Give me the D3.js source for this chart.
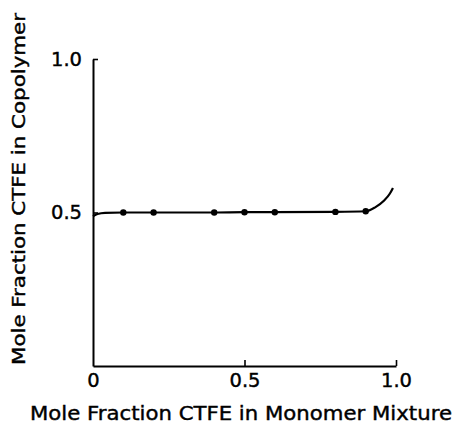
<!DOCTYPE html>
<html><head><meta charset="utf-8">
<script src="https://cdn.jsdelivr.net/npm/d3@7"></script>
<style>body{margin:0;background:#fff}</style>
</head><body>
<script>
const xTicks = [0, 0.5, 1.0];
const xTickLabels = ["0", "0.5", "1.0"];
const yTicks = [0.5, 1.0];
const yTickLabels = ["0.5", "1.0"];
const pointX = [0.1, 0.2, 0.4, 0.5, 0.6, 0.8, 0.9];
const pointY = [0.500, 0.500, 0.500, 0.501, 0.501, 0.502, 0.504];
const curveX = [0, 0.015, 0.04, 0.1, 0.2, 0.4, 0.5, 0.6, 0.8, 0.9, 0.93, 0.96, 0.98, 0.99];
const curveY = [0.488, 0.495, 0.499, 0.500, 0.500, 0.500, 0.501, 0.501, 0.502, 0.504, 0.516, 0.538, 0.562, 0.58];
const xTitle = "Mole Fraction CTFE in Monomer Mixture";
const yTitle = "Mole Fraction CTFE in Copolymer";

const W = 455, H = 426;
const svg = d3.select("body").append("svg").attr("width", W).attr("height", H);
const x = d3.scaleLinear().domain([0, 1]).range([93, 396]);
const y = d3.scaleLinear().domain([0, 1]).range([366, 59]);
const font = "'DejaVu Sans', sans-serif";

const xa = svg.append("g").attr("transform", `translate(0,${y(0)})`)
  .call(d3.axisBottom(x).tickValues(xTicks).tickFormat((d, i) => xTickLabels[i])
    .tickSizeInner(-6).tickSizeOuter(0).tickPadding(7));
const ya = svg.append("g").attr("transform", `translate(${x(0)},0)`)
  .call(d3.axisLeft(y).tickValues(yTicks).tickFormat((d, i) => yTickLabels[i])
    .tickSizeInner(-5).tickSizeOuter(0).tickPadding(11));
[xa, ya].forEach(g => {
  g.select(".domain").attr("stroke", "#000").attr("stroke-width", 2);
  g.selectAll(".tick line").attr("stroke", "#000").attr("stroke-width", 1.6);
  g.selectAll("text").attr("font-family", font).attr("font-size", 19.5).attr("fill", "#000")
    .attr("stroke", "#000").attr("stroke-width", 0.4);
});
xa.selectAll(".tick").filter(d => d === 0).select("line").remove();

const curveData = curveX.map((v, i) => [v, curveY[i]]);
svg.append("path").datum(curveData)
  .attr("fill", "none").attr("stroke", "#000").attr("stroke-width", 2.2)
  .attr("d", d3.line().x(d => x(d[0])).y(d => y(d[1])).curve(d3.curveMonotoneX));

svg.selectAll("circle.pt").data(pointX.map((v, i) => [v, pointY[i]])).enter()
  .append("circle").attr("class", "pt")
  .attr("cx", d => x(d[0])).attr("cy", d => y(d[1])).attr("r", 3.2).attr("fill", "#000");

svg.append("text").attr("x", 30).attr("y", 420)
  .attr("font-family", font).attr("font-size", 19)
  .attr("stroke", "#000").attr("stroke-width", 0.4)
  .attr("textLength", 422).attr("lengthAdjust", "spacingAndGlyphs")
  .text(xTitle);
svg.append("text").attr("transform", "translate(25,365) rotate(-90)")
  .attr("font-family", font).attr("font-size", 17.5)
  .attr("stroke", "#000").attr("stroke-width", 0.4)
  .attr("textLength", 352).attr("lengthAdjust", "spacingAndGlyphs")
  .text(yTitle);
</script>
</body></html>
